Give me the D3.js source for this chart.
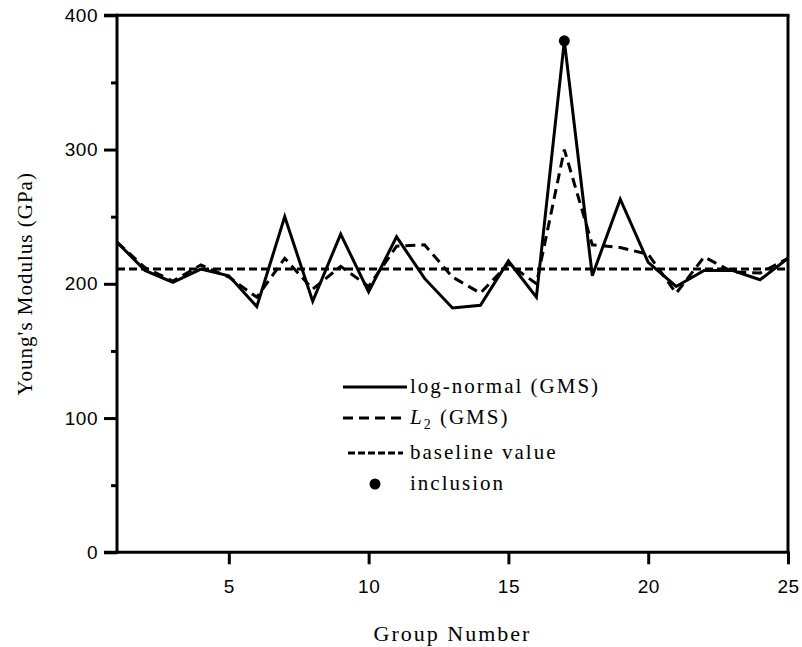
<!DOCTYPE html>
<html>
<head>
<meta charset="utf-8">
<script src="https://cdn.jsdelivr.net/npm/d3@7"></script>
<style>
  body { margin: 0; background: #fff; }
  svg { display: block; }
  .tick text { font-family: "Liberation Sans", Arial, sans-serif; font-size: 19px; letter-spacing: 0.5px; fill: #000; }
  .serif { font-family: "Liberation Serif", "Times New Roman", serif; fill: #000; }
</style>
</head>
<body>
<div id="chart"></div>
<script>
// Young's modulus per group
const groups = d3.range(1, 26);
const logNormal = [231, 210, 201, 211, 206, 183, 250, 187, 237, 194, 235, 204, 182,
                   184, 217, 190, 381, 206, 263, 216, 198, 210, 210, 203, 219];
const l2 = [231, 212, 202, 214, 205, 190, 219, 196, 213, 198, 228, 229, 205,
            193, 215, 200, 300, 229, 227, 222, 193, 220, 209, 208, 219];
const baselineValue = 211;
const inclusion = [{ group: 17, value: 381 }];
const xTicks = [5, 10, 15, 20, 25];
const yTicks = [0, 100, 200, 300, 400];
const yMinorTicks = [50, 150, 250, 350];

const width = 802, height = 647;
const svg = d3.select('#chart').append('svg')
    .attr('width', width)
    .attr('height', height);

const x = d3.scaleLinear().domain([1, 25]).range([117, 788]);
const y = d3.scaleLinear().domain([0, 400]).range([552.3, 15.3]);

// frame: top and right edges
svg.append('line')
    .attr('x1', x(1) - 13).attr('x2', x(25) + 1.5)
    .attr('y1', y(400)).attr('y2', y(400))
    .attr('stroke', '#000').attr('stroke-width', 3);
svg.append('line')
    .attr('x1', x(25)).attr('x2', x(25))
    .attr('y1', y(400)).attr('y2', y(0))
    .attr('stroke', '#000').attr('stroke-width', 3);

// y axis, major + minor ticks
const yAxis = svg.append('g')
    .attr('transform', `translate(${x(1)},0)`)
    .call(d3.axisLeft(y).tickValues(yTicks).tickSize(13).tickPadding(6).tickSizeOuter(0));
svg.append('g')
    .attr('transform', `translate(${x(1)},0)`)
    .call(d3.axisLeft(y).tickValues(yMinorTicks).tickSize(6).tickFormat('').tickSizeOuter(0))
    .call(g => g.select('.domain').remove());

// x axis
const xAxis = svg.append('g')
    .attr('transform', `translate(0,${y(0)})`)
    .call(d3.axisBottom(x).tickValues(xTicks).tickSize(12).tickPadding(15).tickSizeOuter(0));

svg.selectAll('.domain').attr('stroke-width', 3).attr('stroke', '#000');
svg.selectAll('.tick line').attr('stroke-width', 3).attr('stroke', '#000');
// extend the domains so the corner ticks meet them cleanly
xAxis.select('.domain').attr('d', `M${x(1) - 13},0H${x(25) + 1.5}`);
yAxis.select('.domain').attr('d', `M0,${y(0) + 1.5}V${y(400) - 1.5}`);

// series
const line = d3.line()
    .x((d, i) => x(groups[i]))
    .y(d => y(d));

svg.append('line')
    .attr('x1', x(1)).attr('x2', x(25))
    .attr('y1', y(baselineValue)).attr('y2', y(baselineValue))
    .attr('stroke', '#000').attr('stroke-width', 3)
    .attr('stroke-dasharray', '8,4');

svg.append('path')
    .datum(l2)
    .attr('d', line)
    .attr('fill', 'none')
    .attr('stroke', '#000')
    .attr('stroke-width', 3)
    .attr('stroke-dasharray', '10,6');

svg.append('path')
    .datum(logNormal)
    .attr('d', line)
    .attr('fill', 'none')
    .attr('stroke', '#000')
    .attr('stroke-width', 3);

svg.selectAll('.inclusion')
    .data(inclusion)
    .enter().append('circle')
    .attr('class', 'inclusion')
    .attr('cx', d => x(d.group))
    .attr('cy', d => y(d.value))
    .attr('r', 5.5)
    .attr('fill', '#000');

// axis titles
svg.append('text')
    .attr('class', 'serif')
    .attr('x', (x(1) + x(25)) / 2)
    .attr('y', 641)
    .attr('text-anchor', 'middle')
    .style('font-size', '22px')
    .style('letter-spacing', '2px')
    .text('Group Number');

svg.append('text')
    .attr('class', 'serif')
    .attr('transform', `translate(32,${(y(0) + y(400)) / 2}) rotate(-90)`)
    .attr('text-anchor', 'middle')
    .style('font-size', '21px')
    .style('letter-spacing', '1px')
    .text("Young's Modulus (GPa)");

// legend
const legendRows = [
    { key: 'lognormal', y: 387, dash: null },
    { key: 'l2', y: 418, dash: '10,6' },
    { key: 'baseline', y: 453, dash: '7,3' },
    { key: 'inclusion', y: 484, dash: null }
];
const legend = svg.append('g');
legendRows.forEach(row => {
    if (row.key === 'inclusion') {
        legend.append('circle')
            .attr('cx', 375).attr('cy', row.y).attr('r', 5.5).attr('fill', '#000');
    } else {
        const x0 = row.key === 'baseline' ? 348 : 343;
        const x1 = row.key === 'baseline' ? 403 : 407;
        legend.append('line')
            .attr('x1', x0).attr('x2', x1)
            .attr('y1', row.y).attr('y2', row.y)
            .attr('stroke', '#000').attr('stroke-width', 3)
            .attr('stroke-dasharray', row.dash);
    }
    const t = legend.append('text')
        .attr('class', 'serif')
        .attr('x', 410)
        .attr('y', row.y + 6)
        .style('font-size', '21px')
        .style('letter-spacing', '2px');
    if (row.key === 'lognormal') t.text('log-normal (GMS)');
    if (row.key === 'baseline') t.text('baseline value');
    if (row.key === 'inclusion') t.text('inclusion');
    if (row.key === 'l2') {
        t.append('tspan').style('font-style', 'italic').text('L');
        t.append('tspan').attr('dy', 5).style('font-size', '14px').text('2');
        t.append('tspan').attr('dy', -5).text(' (GMS)');
    }
});
</script>
</body>
</html>
